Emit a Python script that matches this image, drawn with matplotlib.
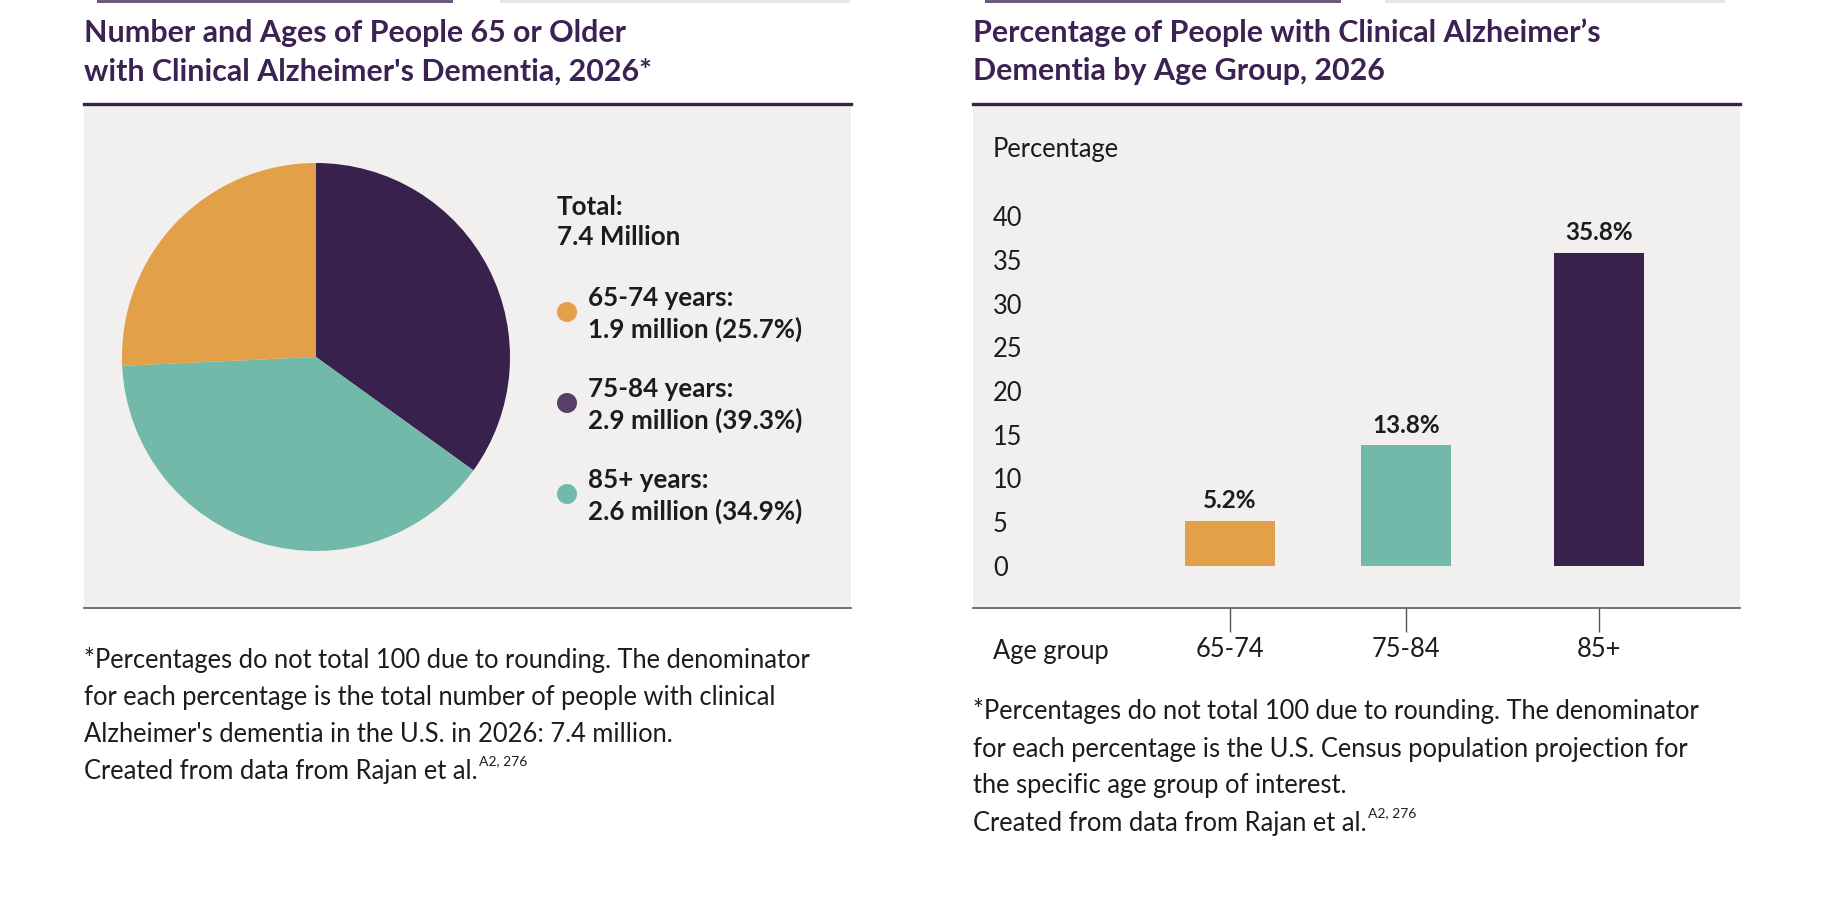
import matplotlib
matplotlib.use('agg')
from matplotlib import pyplot as plt
from matplotlib.patches import Rectangle, Ellipse
from matplotlib.lines import Line2D

plt.rcParams['font.family'] = ['Lato', 'DejaVu Sans']

# ---- data ----
# pie wedges, clockwise from 12 o'clock (as drawn)
pie_groups = ['85+ years', '75-84 years', '65-74 years']
pie_shares = [34.9, 39.3, 25.7]

legend_total = ['Total:', '7.4 Million']
legend_groups = ['65-74 years:', '75-84 years:', '85+ years:']
legend_values = ['1.9 million (25.7%)', '2.9 million (39.3%)', '2.6 million (34.9%)']

bar_groups = ['65-74', '75-84', '85+']
bar_values = [5.2, 13.8, 35.8]
y_ticks = [0, 5, 10, 15, 20, 25, 30, 35, 40]

left_title = ['Number and Ages of People 65 or Older',
              "with Clinical Alzheimer's Dementia, 2026*"]
right_title = ['Percentage of People with Clinical Alzheimer\u2019s',
               'Dementia by Age Group, 2026']
left_notes = ['*Percentages do not total 100 due to rounding. The denominator',
              'for each percentage is the total number of people with clinical',
              "Alzheimer's dementia in the U.S. in 2026: 7.4 million."]
right_notes = ['*Percentages do not total 100 due to rounding. The denominator',
               'for each percentage is the U.S. Census population projection for',
               'the specific age group of interest.']
source = 'Created from data from Rajan et al.'
source_sup = 'A2, 276'

# ---- style ----
ORANGE = '#e2a048'
TEAL = '#73b9aa'
PURPLE = '#38214c'
PURPLE_DOT = '#583f68'
TITLE_C = '#3b2252'
BG = '#f2f0ef'
TXT = '#1c1c1c'
pie_colors = [PURPLE, TEAL, ORANGE]
bar_colors = [ORANGE, TEAL, PURPLE]
dot_colors = [ORANGE, PURPLE_DOT, TEAL]
FS = 18.4

W, H = 1834, 908
fig = plt.figure(figsize=(W / 100, H / 100), dpi=100)
fig.patch.set_facecolor('white')


def fx(px):
    return px / W


def fy(py):
    return 1 - py / H


def ftext(x, y, s, **kw):
    kw.setdefault('va', 'center')
    kw.setdefault('ha', 'left')
    return fig.text(fx(x), fy(y), s, **kw)


# faint cut-off bars at the very top edge
for x0, x1, c in [(97, 453, '#6b5a7a'), (500, 850, '#e6e6e6'),
                  (985, 1341, '#6b5a7a'), (1385, 1725, '#e6e6e6')]:
    fig.patches.append(Rectangle((fx(x0), fy(3)), fx(x1 - x0), 3 / H,
                                 transform=fig.transFigure, color=c, lw=0, zorder=-2))

# ---- panel backgrounds ----
for x0, x1 in [(84, 851), (973, 1740)]:
    fig.patches.append(Rectangle((fx(x0), fy(608)), fx(x1 - x0), (608 - 104) / H,
                                 transform=fig.transFigure, color=BG, lw=0, zorder=-2))
    fig.lines.append(Line2D([fx(x0), fx(x1)], [fy(104), fy(104)],
                            transform=fig.transFigure, color=PURPLE, lw=2.4))
    fig.lines.append(Line2D([fx(x0), fx(x1)], [fy(608), fy(608)],
                            transform=fig.transFigure, color='#5a5a5a', lw=1.2))

# ---- titles ----
for i, line in enumerate(left_title):
    ftext(84, 33 + 39 * i, line, fontsize=21.9, fontweight='bold', color=TITLE_C)
for i, line in enumerate(right_title):
    ftext(973, 33 + 38 * i, line, fontsize=21.9, fontweight='bold', color=TITLE_C)

# ---- pie ----
cx, cy, r = 316, 357, 194
box = 200
ax_pie = fig.add_axes([fx(cx - box), fy(cy + box), fx(2 * box), 2 * box / H])
ax_pie.pie(pie_shares, colors=pie_colors, startangle=90, counterclock=False,
           radius=r / box, wedgeprops=dict(linewidth=0))
ax_pie.set_xlim(-1, 1)
ax_pie.set_ylim(-1, 1)
ax_pie.set_aspect('equal')
ax_pie.axis('off')

# legend beside the pie
LFS = 18.7
ftext(557, 207, legend_total[0], fontsize=LFS, fontweight='bold', color=TXT)
ftext(557, 237, legend_total[1], fontsize=LFS, fontweight='bold', color=TXT)
for i, (g, v) in enumerate(zip(legend_groups, legend_values)):
    y0 = 298 + 91 * i
    ftext(588, y0, g, fontsize=LFS, fontweight='bold', color=TXT)
    ftext(588, y0 + 31, v, fontsize=LFS, fontweight='bold', color=TXT)
    fig.patches.append(Ellipse((fx(567), fy(y0 + 14)), 20 / W, 20 / H,
                               transform=fig.transFigure, color=dot_colors[i], lw=0))

# ---- bar chart ----
ax = fig.add_axes([fx(973), fy(608), fx(1740 - 973), (608 - 104) / H])
ax.patch.set_alpha(0)
bar_x = [0, 1, 2.1]
ax.bar(bar_x, bar_values, width=0.51, color=bar_colors, linewidth=0)
for x, v in zip(bar_x, bar_values):
    ax.text(x, v + 2.3, f'{v}%', ha='center', va='center', fontsize=17.5,
            fontweight='bold', color=TXT)
ax.set_xlim(-1.46, 2.9)
ax.set_ylim(-4.8, 52.8)
ax.set_yticks(y_ticks)
ax.set_yticklabels([str(t) for t in y_ticks], ha='left')
ax.tick_params(axis='y', length=0, pad=-14.4, labelsize=FS, labelcolor=TXT)
ax.set_xticks(bar_x)
ax.set_xticklabels(bar_groups)
ax.tick_params(axis='x', direction='out', length=17, width=1, color='#555555',
               pad=4, labelsize=FS, labelcolor=TXT)
for s in ax.spines.values():
    s.set_visible(False)

ftext(993, 150, 'Percentage', fontsize=FS, color=TXT)
ftext(993, 651, 'Age group', fontsize=FS, color=TXT)

# ---- footnotes ----
renderer = fig.canvas.get_renderer()


def notes(x, ys, lines):
    for y, line in zip(ys, lines):
        ftext(x, y, line, fontsize=FS, color=TXT)
    ys_src = ys[-1] + (ys[1] - ys[0])
    t = ftext(x, ys_src, source, fontsize=FS, color=TXT)
    bb = t.get_window_extent(renderer)
    fig.text(bb.x1 / W + 1 / W, fy(ys_src - 11), source_sup,
             fontsize=10, color=TXT, va='center', ha='left')


notes(84, [660, 697, 735], left_notes)
notes(973, [711, 749, 786], right_notes)

fig.savefig('out.png', dpi=100, facecolor='white')
